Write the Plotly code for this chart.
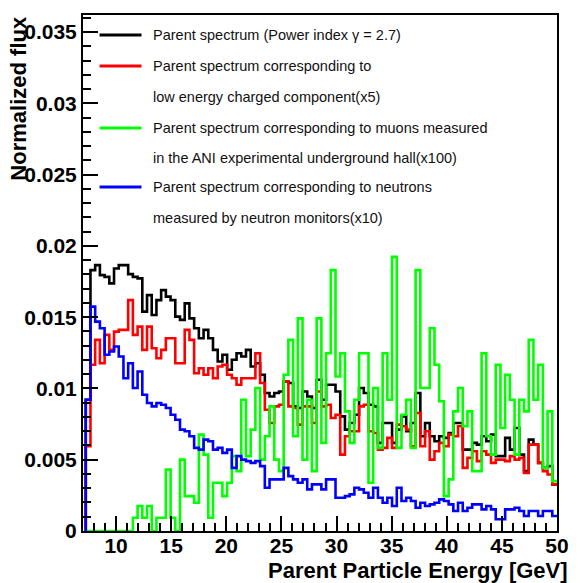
import numpy as np
import plotly.graph_objects as go

# ---------------- data ----------------
BIN_LOW = 7.25
BIN_HIGH = 50.0
N_BINS = 100

BLACK = [0.00921, 0.01830, 0.01865, 0.01795, 0.01783, 0.01737, 0.01842, 0.01865, 0.01865, 0.01802,
         0.01783, 0.01772, 0.01539, 0.01655, 0.01515, 0.01620, 0.01690, 0.01644, 0.01620, 0.01504,
         0.01481, 0.01597, 0.01492, 0.01422, 0.01352, 0.01411, 0.01352, 0.01271, 0.01189, 0.01236,
         0.01131, 0.01201, 0.01247, 0.01224, 0.01271, 0.01154, 0.01177, 0.01096, 0.00968, 0.00944,
         0.00968, 0.00979, 0.01049, 0.01038, 0.00874, 0.00863, 0.00979, 0.00944, 0.00863, 0.01061,
         0.00921, 0.01026, 0.01026, 0.00979, 0.00804, 0.00711, 0.00758, 0.00816, 0.01003, 0.00968,
         0.00886, 0.00874, 0.00618, 0.00758, 0.00758, 0.00618, 0.00711, 0.00804, 0.00700, 0.00758,
         0.00968, 0.00665, 0.00758, 0.00665, 0.00630, 0.00665, 0.00653, 0.00688, 0.00758, 0.00758,
         0.00571, 0.00571, 0.00618, 0.00606, 0.00665, 0.00630, 0.00676, 0.00525, 0.00525, 0.00653,
         0.00571, 0.00723, 0.00536, 0.00420, 0.00641, 0.00606, 0.00478, 0.00443, 0.00455, 0.00327]

RED = [0.00595, 0.01166, 0.01341, 0.01177, 0.01376, 0.01271, 0.01399, 0.01411, 0.01411, 0.01620,
       0.01376, 0.01434, 0.01271, 0.01434, 0.01282, 0.01212, 0.01271, 0.01352, 0.01352, 0.01177,
       0.01177, 0.01411, 0.01341, 0.01107, 0.01142, 0.01096, 0.01142, 0.01072, 0.01154, 0.01166,
       0.01096, 0.01072, 0.01026, 0.01072, 0.01072, 0.01072, 0.01247, 0.01038, 0.00851, 0.00758,
       0.00874, 0.00886, 0.01049, 0.00874, 0.00863, 0.00746, 0.00874, 0.00874, 0.00758, 0.00979,
       0.00874, 0.00886, 0.00793, 0.00816, 0.00536, 0.00665, 0.00700, 0.00700, 0.00874, 0.00886,
       0.00700, 0.00688, 0.00571, 0.00583, 0.00653, 0.00583, 0.00746, 0.00735, 0.00711, 0.00595,
       0.00828, 0.00595, 0.00700, 0.00501, 0.00560, 0.00618, 0.00595, 0.00676, 0.00665, 0.00735,
       0.00443, 0.00513, 0.00560, 0.00490, 0.00560, 0.00536, 0.00478, 0.00501, 0.00501, 0.00490,
       0.00525, 0.00501, 0.00513, 0.00408, 0.00606, 0.00606, 0.00478, 0.00420, 0.00396, 0.00327]

GREEN = [0.0, 0.0, 0.0, 0.0, 0.0, 0.0, 0.0, 0.0, 0.0, 0.0,
         0.00093, 0.00175, 0.00093, 0.00175, 0.0, 0.00093, 0.00093, 0.00431, 0.00093, 0.0,
         0.00501, 0.00245, 0.00245, 0.00198, 0.00676, 0.00536, 0.00093, 0.00338, 0.00338, 0.00245,
         0.00338, 0.00525, 0.00420, 0.00921, 0.00525, 0.00711, 0.01003, 0.00501, 0.00665, 0.00874,
         0.00501, 0.00420, 0.01096, 0.01341, 0.00665, 0.01492, 0.00501, 0.00921, 0.00420, 0.01492,
         0.00618, 0.01247, 0.01830, 0.01084, 0.01247, 0.00839, 0.00618, 0.00921, 0.01247, 0.01247,
         0.00338, 0.01003, 0.00583, 0.01247, 0.00921, 0.01923, 0.00583, 0.00816, 0.00921, 0.00583,
         0.01830, 0.01003, 0.01003, 0.01422, 0.01166, 0.00910, 0.00245, 0.00362, 0.00839, 0.01003,
         0.00735, 0.00839, 0.00420, 0.00420, 0.01247, 0.00665, 0.00536, 0.01166, 0.00723, 0.01096,
         0.00921, 0.00536, 0.00921, 0.00839, 0.01341, 0.00921, 0.01166, 0.00443, 0.00839, 0.00350]

BLUE = [0.00921, 0.01574, 0.01469, 0.01422, 0.01236, 0.01259, 0.01294, 0.01224, 0.01072, 0.01177,
        0.01003, 0.01119, 0.00956, 0.00898, 0.00874, 0.00898, 0.00886, 0.00863, 0.00816, 0.00781,
        0.00711, 0.00700, 0.00665, 0.00583, 0.00571, 0.00641, 0.00630, 0.00571, 0.00583, 0.00548,
        0.00571, 0.00443, 0.00525, 0.00501, 0.00490, 0.00478, 0.00490, 0.00455, 0.00303, 0.00362,
        0.00362, 0.00362, 0.00443, 0.00385, 0.00362, 0.00338, 0.00362, 0.00292, 0.00327, 0.00327,
        0.00292, 0.00362, 0.00362, 0.00233, 0.00233, 0.00245, 0.00257, 0.00303, 0.00292, 0.00268,
        0.00233, 0.00303, 0.00233, 0.00198, 0.00233, 0.00175, 0.00303, 0.00210, 0.00233, 0.00210,
        0.00163, 0.00198, 0.00175, 0.00187, 0.00198, 0.00222, 0.00210, 0.00187, 0.00140, 0.00198,
        0.00140, 0.00163, 0.00187, 0.00187, 0.00152, 0.00175, 0.00152, 0.00082, 0.00082, 0.00152,
        0.00152, 0.00163, 0.00140, 0.00105, 0.00140, 0.00140, 0.00105, 0.00140, 0.00140, 0.00105]

SERIES_NAMES = [
    "Parent spectrum (Power index γ = 2.7)",
    "Parent spectrum corresponding to<br>low energy charged component(x5)",
    "Parent spectrum corresponding to muons measured<br>in the ANI experimental underground hall(x100)",
    "Parent spectrum corresponding to neutrons<br>measured by neutron monitors(x10)",
]
SERIES_COLORS = ["#000000", "#ff0000", "#00ff00", "#0000ff"]

X_TICK_VALS = [10, 15, 20, 25, 30, 35, 40, 45, 50]
X_TICK_TEXT = ["10", "15", "20", "25", "30", "35", "40", "45", "50"]
Y_TICK_VALS = [0, 0.005, 0.01, 0.015, 0.02, 0.025, 0.03, 0.035]
Y_TICK_TEXT = ["0", "0.005", "0.01", "0.015", "0.02", "0.025", "0.03", "0.035"]

X_TITLE = "Parent Particle Energy [GeV]"
Y_TITLE = "Normalized flux"

# ---------------- layout constants ----------------
W, H = 581, 583
PLOT_L, PLOT_R, PLOT_T, PLOT_B = 83, 569, 15, 531
X_RANGE = [7, 50]
Y_RANGE = [0, 0.0362]
FONT = "Liberation Sans, Arial, Helvetica, sans-serif"
LINE_W = 2.6


def px_x(p):
    return (p - PLOT_L) / (PLOT_R - PLOT_L)


def px_y(p):
    return (PLOT_B - p) / (PLOT_B - PLOT_T)


edges = np.linspace(BIN_LOW, BIN_HIGH, N_BINS + 1)


def hist_xy(vals):
    xs = [edges[0]] + list(edges[:-1]) + [edges[-1]]
    ys = [0.0] + list(vals) + [vals[-1]]
    return xs, ys


fig = go.Figure()
for vals, name, col in zip([BLACK, RED, GREEN, BLUE], SERIES_NAMES, SERIES_COLORS):
    xs, ys = hist_xy(vals)
    fig.add_trace(go.Scatter(x=xs, y=ys, mode="lines", name=name,
                             line=dict(color=col, width=LINE_W, shape="hv"),
                             showlegend=False, hoverinfo="skip"))

# legend drawn in pixel space (ROOT TLegend look)
legend_rows = [
    (35, SERIES_COLORS[0], "Parent spectrum (Power index γ = 2.7)"),
    (66, SERIES_COLORS[1], "Parent spectrum corresponding to"),
    (97, None, "low energy charged component(x5)"),
    (128, SERIES_COLORS[2], "Parent spectrum corresponding to muons measured"),
    (158, None, "in the ANI experimental underground hall(x100)"),
    (187, SERIES_COLORS[3], "Parent spectrum corresponding to neutrons"),
    (218, None, "measured by neutron monitors(x10)"),
]
shapes = []
annotations = []
for ypix, col, txt in legend_rows:
    if col is not None:
        shapes.append(dict(type="line", xref="paper", yref="paper",
                           x0=px_x(100), x1=px_x(143), y0=px_y(ypix), y1=px_y(ypix),
                           line=dict(color=col, width=3)))
    annotations.append(dict(text=txt, xref="paper", yref="paper",
                            x=px_x(153), y=px_y(ypix), xanchor="left", yanchor="middle",
                            showarrow=False, font=dict(family=FONT, size=14.5, color="#111111")))

annotations.append(dict(text=X_TITLE, xref="paper", yref="paper", x=px_x(426), y=px_y(570),
                        xanchor="center", yanchor="middle", showarrow=False,
                        font=dict(family=FONT, size=22, color="black", weight="bold")))
annotations.append(dict(text=Y_TITLE, xref="paper", yref="paper", x=px_x(17), y=px_y(98),
                        xanchor="center", yanchor="middle", textangle=-90, showarrow=False,
                        font=dict(family=FONT, size=22, color="black", weight="bold")))

axis_common = dict(showline=True, linecolor="black", linewidth=2, mirror=True,
                   ticks="inside", tickcolor="black", tickwidth=1.5,
                   showgrid=False, zeroline=False,
                   tickfont=dict(family=FONT, size=21, color="black", weight="bold"))

fig.update_layout(
    width=W, height=H,
    margin=dict(l=PLOT_L, r=W - PLOT_R, t=PLOT_T, b=H - PLOT_B),
    paper_bgcolor="white", plot_bgcolor="white",
    xaxis=dict(range=X_RANGE, tickvals=X_TICK_VALS, ticktext=X_TICK_TEXT, ticklen=15,
               ticklabelstandoff=-5,
               minor=dict(dtick=1, tick0=0, ticks="inside", ticklen=8, tickwidth=1.5,
                          tickcolor="black", showgrid=False),
               **axis_common),
    yaxis=dict(range=Y_RANGE, tickvals=Y_TICK_VALS, ticktext=Y_TICK_TEXT, ticklen=15,
               minor=dict(dtick=0.001, tick0=0, ticks="inside", ticklen=8, tickwidth=1.5,
                          tickcolor="black", showgrid=False),
               **axis_common),
    shapes=shapes,
    annotations=annotations,
    showlegend=False,
)

fig.write_html("out.html", config={"displayModeBar": False},
               post_script="document.body.style.margin='0';document.body.style.padding='0';")
